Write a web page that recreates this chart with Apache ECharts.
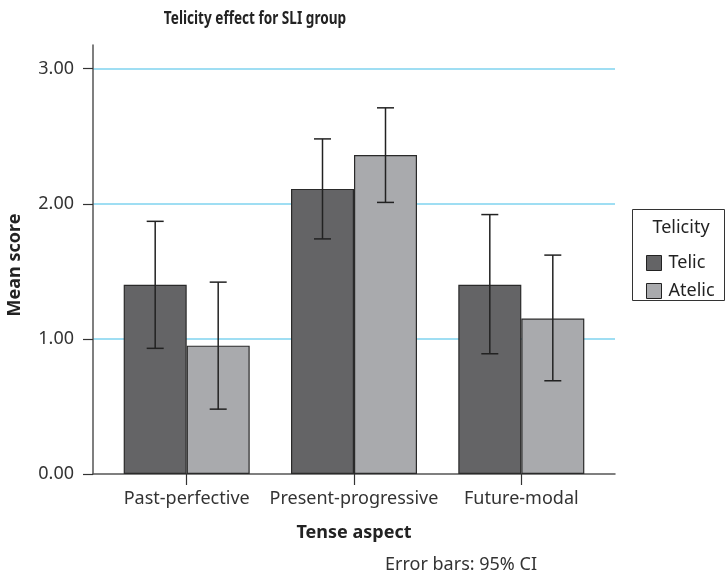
<!DOCTYPE html>
<html>
<head>
<meta charset="utf-8">
<script src="https://cdn.jsdelivr.net/npm/echarts@6/dist/echarts.min.js"></script>
<style>html,body{margin:0;padding:0;background:#fff;}#c{width:726px;height:577px;}</style>
</head>
<body>
<div id="c"></div>
<script>
var categories = ['Past-perfective', 'Present-progressive', 'Future-modal'];
var telicMean = [1.40, 2.11, 1.40];
var telicLow = [0.93, 1.74, 0.89];
var telicHigh = [1.87, 2.48, 1.92];
var atelicMean = [0.95, 2.36, 1.15];
var atelicLow = [0.48, 2.01, 0.69];
var atelicHigh = [1.42, 2.71, 1.62];
var yTicks = [0, 1, 2, 3];

var FONT = '"Noto Sans", sans-serif';
var BAR_W = 63;

function barData(arr) { return arr.map(function (v, i) { return [i, v]; }); }
function errData(lo, hi, side) { return lo.map(function (v, i) { return [i, v, hi[i], side]; }); }

function renderErr(params, api) {
  var x = api.value(0), lo = api.value(1), hi = api.value(2), side = api.value(3);
  var pLo = api.coord([x, lo]), pHi = api.coord([x, hi]);
  var off = side * BAR_W / 2;
  var cx = pLo[0] + off;
  var cap = 8.5;
  var st = { stroke: '#222', lineWidth: 1.5 };
  return {
    type: 'group',
    children: [
      { type: 'line', shape: { x1: cx, y1: pLo[1], x2: cx, y2: pHi[1] }, style: st },
      { type: 'line', shape: { x1: cx - cap, y1: pLo[1], x2: cx + cap, y2: pLo[1] }, style: st },
      { type: 'line', shape: { x1: cx - cap, y1: pHi[1], x2: cx + cap, y2: pHi[1] }, style: st }
    ]
  };
}

var chart = echarts.init(document.getElementById('c'), null, { renderer: 'canvas' });
chart.setOption({
  backgroundColor: '#fff',
  animation: false,
  textStyle: { fontFamily: FONT },
  grid: { left: 93, right: 111, top: 45, bottom: 103, containLabel: false },
  xAxis: {
    type: 'value', min: -0.56, max: 2.56,
    name: 'Tense aspect', nameLocation: 'middle', nameGap: 50,
    nameTextStyle: { fontFamily: FONT, fontSize: 18, fontWeight: 'bold', color: '#222' },
    axisLine: { show: true, onZero: false, lineStyle: { color: '#555', width: 1.5 } },
    axisTick: { show: true, length: 11, customValues: [0, 1, 2], lineStyle: { color: '#333', width: 1.2 } },
    axisLabel: {
      customValues: [0, 1, 2], margin: 16,
      formatter: function (v) { return categories[Math.round(v)] || ''; },
      fontFamily: FONT, fontSize: 18, color: '#333'
    },
    splitLine: { show: false }
  },
  yAxis: {
    type: 'value', min: 0, max: 3.175,
    axisLine: { show: true, onZero: false, lineStyle: { color: '#555', width: 1.5 } },
    axisTick: { show: true, inside: false, length: 10, customValues: yTicks, lineStyle: { color: '#333', width: 1.2 } },
    axisLabel: {
      customValues: yTicks, margin: 19,
      formatter: function (v) { return v.toFixed(2); },
      fontFamily: FONT, fontSize: 18, color: '#333'
    },
    splitLine: { show: true, showMinLine: false, showMaxLine: true, lineStyle: { color: '#7fd3ef', width: 1.5 } }
  },
  legend: {
    orient: 'vertical', left: 641, top: 249,
    itemWidth: 15, itemHeight: 15, itemGap: 10,
    icon: 'rect',
    itemStyle: { borderColor: '#222', borderWidth: 1 },
    textStyle: { fontFamily: FONT, fontSize: 18, color: '#222', padding: [0, 0, 0, 2] },
    data: ['Telic', 'Atelic']
  },
  graphic: [
    { type: 'rect', shape: { x: 632.5, y: 209.5, width: 92, height: 91 }, style: { fill: 'none', stroke: '#333', lineWidth: 1 } },
    { type: 'text', x: 681, y: 228, style: { text: 'Telicity', font: '18px ' + FONT, fill: '#222', textAlign: 'center', textVerticalAlign: 'middle' } },
    { type: 'text', x: 255, y: 19, scaleX: 0.8, style: { text: 'Telicity effect for SLI group', font: 'bold 17px ' + FONT, fill: '#222', textAlign: 'center', textVerticalAlign: 'middle' } },
    { type: 'text', x: 461, y: 565, style: { text: 'Error bars: 95% CI', font: '18px ' + FONT, fill: '#333', textAlign: 'center', textVerticalAlign: 'middle' } },
    { type: 'text', x: 15, y: 265, rotation: Math.PI / 2, style: { text: 'Mean score', font: 'bold 18px ' + FONT, fill: '#222', textAlign: 'center', textVerticalAlign: 'middle' } }
  ],
  series: [
    { name: 'Telic', type: 'bar', data: barData(telicMean), barWidth: BAR_W, barGap: '0%',
      itemStyle: { color: '#646466', borderColor: '#2a2a2a', borderWidth: 1.2 } },
    { name: 'Atelic', type: 'bar', data: barData(atelicMean), barWidth: BAR_W, barGap: '0%',
      itemStyle: { color: '#a9aaad', borderColor: '#2a2a2a', borderWidth: 1.2 } },
    { name: 'errTelic', type: 'custom', renderItem: renderErr, data: errData(telicLow, telicHigh, -1), z: 10, encode: { x: 0, y: [1, 2] } },
    { name: 'errAtelic', type: 'custom', renderItem: renderErr, data: errData(atelicLow, atelicHigh, 1), z: 10, encode: { x: 0, y: [1, 2] } }
  ]
});
</script>
</body>
</html>
